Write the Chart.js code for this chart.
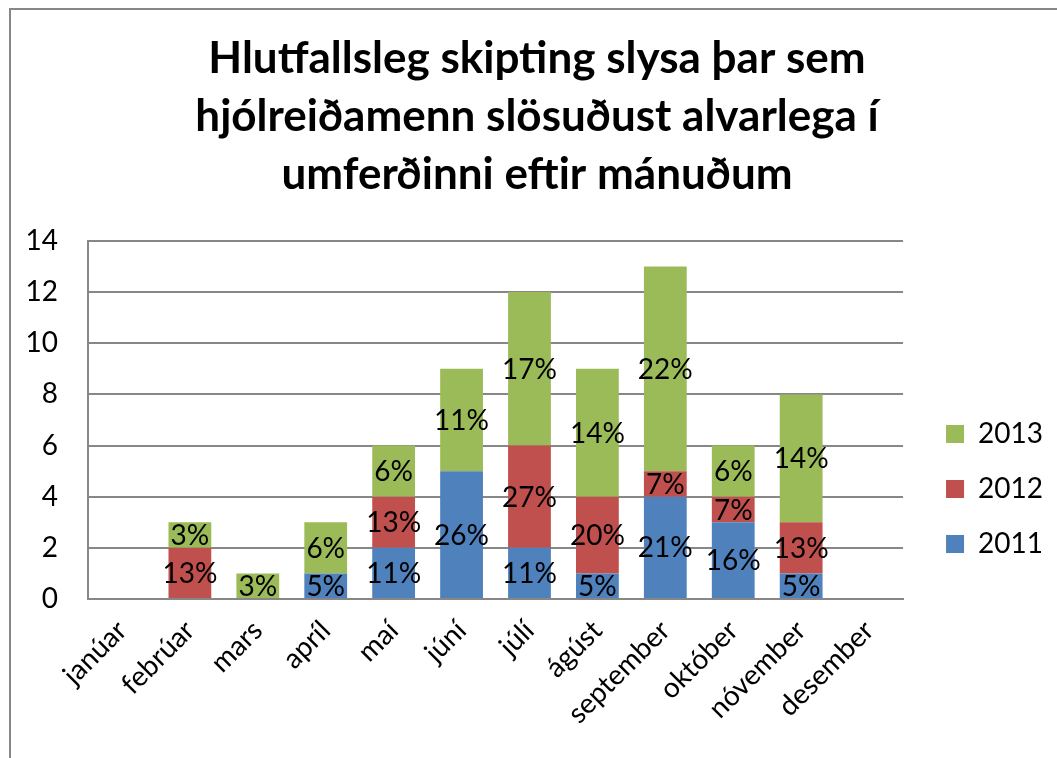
<!DOCTYPE html>
<html>
<head>
<meta charset="utf-8">
<script src="https://cdn.jsdelivr.net/npm/chart.js@4.4.1/dist/chart.umd.min.js"></script>
<style>
  html, body { margin: 0; padding: 0; background: #fff; overflow: hidden; width: 1057px; height: 758px; }
  #box { position: absolute; left: 9px; top: 8px; width: 1090px; height: 780px; border: 2px solid #878787; }
  #wrap { position: absolute; left: 0; top: 0; width: 1062px; height: 735px; }
</style>
</head>
<body>
<div id="box"><div id="wrap"><canvas id="chart"></canvas></div></div>
<script>
var months = ['janúar', 'febrúar', 'mars', 'apríl', 'maí', 'júní', 'júlí', 'ágúst', 'september', 'október', 'nóvember', 'desember'];
var y2011 = [0, 0, 0, 1, 2, 5, 2, 1, 4, 3, 1, 0];
var y2012 = [0, 2, 0, 0, 2, 0, 4, 3, 1, 1, 2, 0];
var y2013 = [0, 1, 1, 2, 2, 4, 6, 5, 8, 2, 5, 0];
var titleLines = ['Hlutfallsleg skipting slysa þar sem', 'hjólreiðamenn slösuðust alvarlega í', 'umferðinni eftir mánuðum'];

var FONT = 'Lato, Calibri, sans-serif';

function sum(a) { return a.reduce(function (s, v) { return s + v; }, 0); }

// percent of the year's total, written in the middle of each segment
var segLabels = {
    id: 'segLabels',
    afterDatasetsDraw: function (chart) {
        var ctx = chart.ctx;
        ctx.save();
        ctx.font = '28px ' + FONT;
        ctx.fillStyle = '#000';
        ctx.textAlign = 'center';
        ctx.textBaseline = 'middle';
        chart.data.datasets.forEach(function (ds, i) {
            var total = sum(ds.data);
            chart.getDatasetMeta(i).data.forEach(function (bar, j) {
                var v = ds.data[j];
                if (!v) return;
                var pct = Math.round(v / total * 100) + '%';
                ctx.fillText(pct, bar.x, (bar.y + bar.base) / 2 + 1);
            });
        });
        ctx.restore();
    }
};

var config = {
    type: 'bar',
    data: {
        labels: months,
        datasets: [
            { label: '2011', data: y2011, backgroundColor: '#4F81BD' },
            { label: '2012', data: y2012, backgroundColor: '#C0504D' },
            { label: '2013', data: y2013, backgroundColor: '#9BBB59' }
        ]
    },
    options: {
        responsive: true,
        maintainAspectRatio: false,
        animation: false,
        datasets: { bar: { categoryPercentage: 1, barPercentage: 0.63 } },
        layout: { padding: { left: 10, right: 20 } },
        scales: {
            x: {
                stacked: true,
                grid: { display: false, drawTicks: false },
                border: { color: '#878787', width: 2 },
                ticks: { color: '#000', font: { family: FONT, size: 28 }, minRotation: 45, maxRotation: 45, padding: 15 },
                afterFit: function (s) { s.height = 146; }
            },
            y: {
                stacked: true,
                min: 0, max: 14,
                grid: { color: '#878787', lineWidth: 2, drawTicks: false },
                border: { color: '#878787', width: 2 },
                ticks: { stepSize: 2, color: '#000', font: { family: FONT, size: 28 }, padding: 30 },
                afterFit: function (s) { s.width = 67; }
            },
            // empty right scale, only a gap between the plot and the legend
            gap: {
                type: 'linear',
                position: 'right',
                grid: { display: false, drawTicks: false },
                border: { display: false },
                ticks: { display: false },
                afterFit: function (s) { s.width = 16; }
            }
        },
        plugins: {
            title: {
                display: true,
                text: titleLines,
                color: '#000',
                font: { family: FONT, size: 44, weight: 'bold', lineHeight: 1.318 },
                padding: { top: 20, bottom: 37 }
            },
            legend: {
                position: 'right',
                fullSize: false,
                align: 'start',
                reverse: true,
                title: { display: true, text: ' ', font: { size: 10 }, padding: { top: 140, bottom: 0 } },
                labels: { color: '#000', font: { family: FONT, size: 28 }, boxWidth: 18, boxHeight: 18, padding: 27 }
            },
            tooltip: { enabled: false }
        }
    },
    plugins: [segLabels]
};

window.onload = function () {
    var ctx = document.getElementById('chart').getContext('2d');
    window.myBar = new Chart(ctx, config);
};
</script>
</body>
</html>
